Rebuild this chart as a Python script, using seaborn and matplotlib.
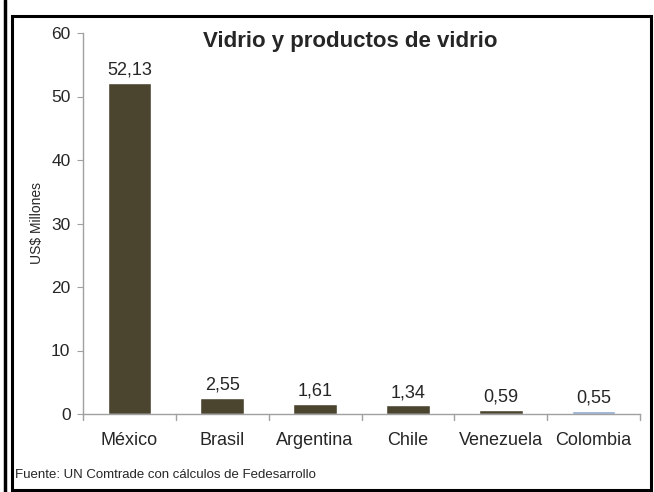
import matplotlib
matplotlib.use("Agg")
import matplotlib.pyplot as plt
import seaborn as sns
import pandas as pd
from matplotlib.patches import Rectangle
from matplotlib.lines import Line2D

# Datos del grafico
paises = ["México", "Brasil", "Argentina", "Chile", "Venezuela", "Colombia"]
valores = [52.13, 2.55, 1.61, 1.34, 0.59, 0.55]
etiquetas = ["52,13", "2,55", "1,61", "1,34", "0,59", "0,55"]
colores = ["#4B4530", "#4B4530", "#4B4530", "#4B4530", "#4B4530", "#8EA8CF"]

df = pd.DataFrame({"pais": paises, "valor": valores})

sns.set_style("white")
plt.rcParams["font.family"] = ["Liberation Sans", "DejaVu Sans"]

fig = plt.figure(figsize=(6.54, 4.92), dpi=100)
ax = fig.add_axes([83 / 654, 1 - 414 / 492, (640 - 83) / 654, (414 - 33) / 492])

sns.barplot(data=df, x="pais", y="valor", hue="pais", palette=colores,
            legend=False, width=0.47, ax=ax, saturation=1)

for i, (v, t) in enumerate(zip(valores, etiquetas)):
    ax.text(i, v + 0.7, t, ha="center", va="bottom", fontsize=13)

ax.set_ylim(0, 60)
ax.set_yticks([0, 10, 20, 30, 40, 50, 60])
ax.set_xlim(-0.5, 5.5)
ax.set_xlabel("")
ax.set_ylabel("US$ Millones", fontsize=10, labelpad=5)
ax.tick_params(axis="y", labelsize=12.5, length=4, color="#A0A0A0", left=True, pad=5)
ax.tick_params(axis="x", labelsize=13, length=0, pad=13)
for s in ["top", "right"]:
    ax.spines[s].set_visible(False)
for s in ["left", "bottom"]:
    ax.spines[s].set_color("#A0A0A0")
    ax.spines[s].set_linewidth(1)

# marcas de categoria en el eje x
for b in [-0.5, 0.5, 1.5, 2.5, 3.5, 4.5, 5.5]:
    ax.plot([b, b], [0, -0.9], color="#A0A0A0", lw=1, clip_on=False)

fig.text(350 / 654, 1 - 42 / 492, "Vidrio y productos de vidrio", ha="center",
         va="center", fontsize=16, fontweight="bold")
fig.text(15 / 654, 1 - 475 / 492, "Fuente: UN Comtrade con cálculos de Fedesarrollo",
         ha="left", va="center", fontsize=9.5)

# marcos
fig.add_artist(Rectangle((12 / 654, 2 / 492), 639 / 654, 474 / 492,
                         transform=fig.transFigure, fill=False, lw=2.2, ec="black"))
fig.add_artist(Line2D([5 / 654, 5 / 654], [0, 1], transform=fig.transFigure,
                      lw=2.5, color="black"))

fig.savefig("out.png", dpi=100)
